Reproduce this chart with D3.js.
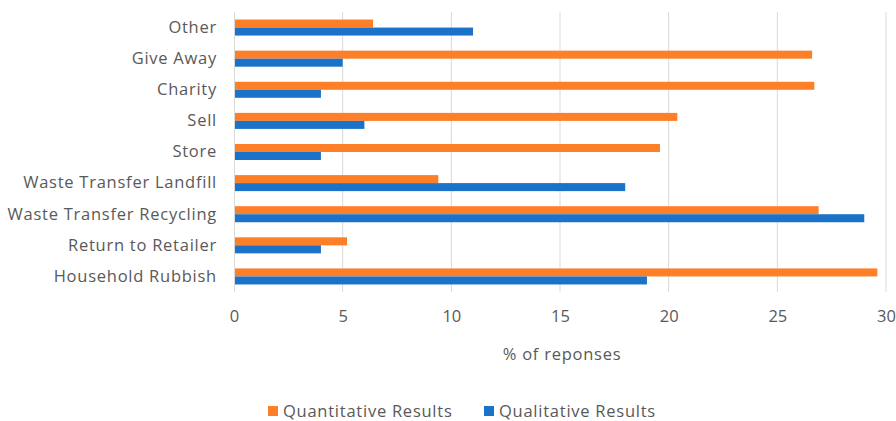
<!DOCTYPE html>
<html>
<head>
<meta charset="utf-8">
<script src="https://cdn.jsdelivr.net/npm/d3@7"></script>
<style>
  body { margin: 0; background: #fff; }
  svg text { font-family: "Open Sans", "Liberation Sans", sans-serif; fill: #595959; }
</style>
</head>
<body>
<svg id="chart" width="896" height="421"></svg>
<script>
// data, top to bottom as drawn
const categories = ["Other", "Give Away", "Charity", "Sell", "Store",
  "Waste Transfer Landfill", "Waste Transfer Recycling", "Return to Retailer", "Household Rubbish"];
const quantitative = [6.4, 26.6, 26.7, 20.4, 19.6, 9.4, 26.9, 5.2, 29.6];
const qualitative = [11, 5, 4, 6, 4, 18, 29, 4, 19];
const seriesNames = ["Quantitative Results", "Qualitative Results"];
const colors = ["#fd7f27", "#1b72c9"];
const xTicks = [0, 5, 10, 15, 20, 25, 30];

const FONT = "16.5px";
const SPACING = "0.75px";
const margin = { top: 12, right: 10, bottom: 129, left: 234 };
const svg = d3.select("#chart");
const W = 896, H = 421;
const width = 886 - margin.left;
const height = H - margin.top - margin.bottom;

const g = svg.append("g").attr("transform", `translate(${margin.left},${margin.top})`);

const x = d3.scaleLinear().domain([0, 30]).range([0, width]);
const y = d3.scaleBand().domain(categories).range([0, height]).paddingInner(0.485).paddingOuter(0.2425);
const ySub = d3.scaleBand().domain([0, 1]).range([0, y.bandwidth()]);

// gridlines
g.append("g")
  .selectAll("line")
  .data(xTicks.slice(1))
  .join("line")
  .attr("x1", d => x(d)).attr("x2", d => x(d))
  .attr("y1", 0).attr("y2", height)
  .attr("stroke", "#d9d9d9").attr("stroke-width", 1);

// bars
const rows = categories.map((c, i) => ({ c, vals: [quantitative[i], qualitative[i]] }));
g.append("g")
  .selectAll("g")
  .data(rows)
  .join("g")
  .attr("transform", d => `translate(0,${y(d.c)})`)
  .selectAll("rect")
  .data(d => d.vals)
  .join("rect")
  .attr("x", 0)
  .attr("y", (d, i) => ySub(i))
  .attr("width", d => x(d))
  .attr("height", ySub.bandwidth())
  .attr("fill", (d, i) => colors[i]);

// vertical axis line
g.append("line")
  .attr("x1", 0.5).attr("x2", 0.5)
  .attr("y1", 0).attr("y2", height)
  .attr("stroke", "#d9d9d9");

// category labels
const yAxis = g.append("g")
  .call(d3.axisLeft(y).tickSize(0).tickPadding(17));
yAxis.select(".domain").remove();
yAxis.selectAll("text").style("font-size", FONT).style("letter-spacing", SPACING).attr("fill", "#595959");

// x tick labels
const xAxis = g.append("g")
  .attr("transform", `translate(0,${height})`)
  .call(d3.axisBottom(x).tickValues(xTicks).tickSize(0).tickPadding(18));
xAxis.select(".domain").remove();
xAxis.selectAll("text").style("font-size", FONT).attr("fill", "#595959");

// axis title
g.append("text")
  .attr("x", width / 2 + 2)
  .attr("y", height + 68)
  .attr("text-anchor", "middle")
  .style("font-size", FONT)
  .style("letter-spacing", SPACING)
  .text("% of reponses");

// legend
const legend = svg.append("g").attr("transform", "translate(268,411)");
const legendX = [0, 216];
seriesNames.forEach((name, i) => {
  const lg = legend.append("g").attr("transform", `translate(${legendX[i]},0)`);
  lg.append("rect").attr("x", 0).attr("y", -5).attr("width", 10).attr("height", 10).attr("fill", colors[i]);
  lg.append("text").attr("x", 15).attr("y", 6).style("font-size", FONT).style("letter-spacing", SPACING).text(name);
});
</script>
</body>
</html>
